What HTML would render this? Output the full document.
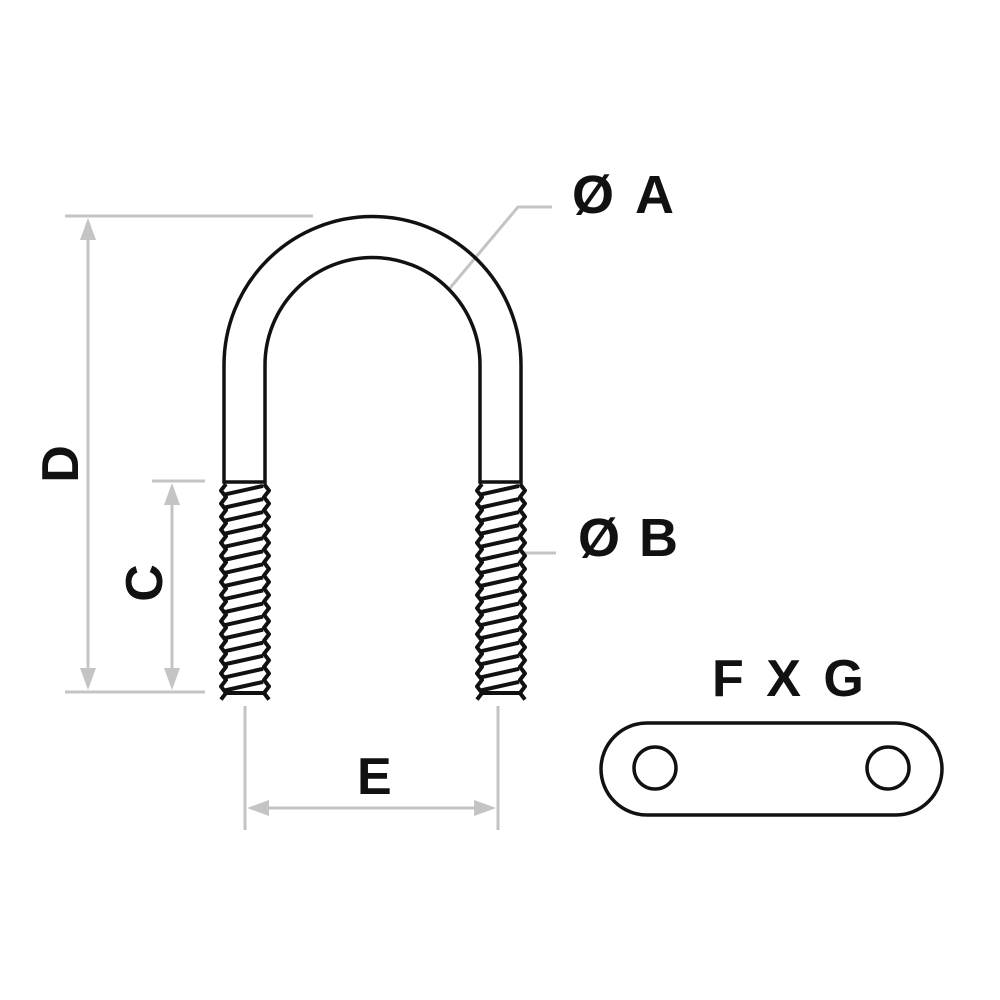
<!DOCTYPE html>
<html><head><meta charset="utf-8"><style>
html,body{margin:0;padding:0;background:#fff;}
svg{display:block;}
text{font-family:"Liberation Sans",sans-serif;font-weight:bold;fill:#111;}
</style></head><body>
<svg id="s" width="1000" height="1000" viewBox="0 0 1000 1000">
<g stroke="#c4c4c4" stroke-width="3" fill="none">
<line x1="65" y1="216" x2="313" y2="216"/>
<line x1="88" y1="222" x2="88" y2="686"/>
<line x1="65" y1="692" x2="205" y2="692"/>
<line x1="152" y1="481" x2="205" y2="481"/>
<line x1="172" y1="487" x2="172" y2="686"/>
<line x1="245" y1="706" x2="245" y2="830"/>
<line x1="498" y1="706" x2="498" y2="830"/>
<line x1="251" y1="808" x2="492" y2="808"/>
<polyline points="450,288 518,207 552,207"/>
<line x1="522" y1="553" x2="556" y2="553"/>
</g>
<g fill="#c4c4c4">
<polygon points="88,218 80,240 96,240"/>
<polygon points="88,690 80,668 96,668"/>
<polygon points="172,483 164,505 180,505"/>
<polygon points="172,690 164,668 180,668"/>
<polygon points="247,808 269,800 269,816"/>
<polygon points="496,808 474,800 474,816"/>
</g>
<g stroke="#111" stroke-width="3.5" fill="none">
<path d="M224,482 L224,365 A148.5,148.5 0 0 1 521,365 L521,482 L480,482 L480,365 A107.5,107.5 0 0 0 265,365 L265,482 Z"/>
<rect x="601" y="723" width="341" height="92" rx="46"/>
<circle cx="655" cy="768" r="21"/>
<circle cx="888" cy="768" r="21"/>
</g>
<g id="th" stroke="#111" stroke-width="4" fill="none" stroke-linejoin="round"></g>
<text x="572" y="213" font-size="54" letter-spacing="4">Ø A</text>
<text x="578" y="556" font-size="54" letter-spacing="2">Ø B</text>
<text x="712" y="696" font-size="52" letter-spacing="4">F X G</text>
<text x="357" y="794" font-size="52">E</text>
<text transform="translate(78,464) rotate(-90)" font-size="52" text-anchor="middle">D</text>
<text transform="translate(162,583) rotate(-90)" font-size="52" text-anchor="middle">C</text>
</svg>
<script>
var g=document.getElementById('th'),out='';
function leg(x0,x1){
 var top=484,bot=693,n=16,p=(bot-top)/n,L='',R='';
 for(var i=0;i<=n;i++){var y=top+i*p;
  L+=(x0+2)+','+y+' '+(x0-3)+','+(y+p/2)+' ';
  R+=(x1-2)+','+y+' '+(x1+3)+','+(y+p/2)+' ';
  if(i<n) out+='<line x1="'+(x0+1)+'" y1="'+(y+p*0.8)+'" x2="'+(x1-3)+'" y2="'+(y+p*0.15)+'"/>';
 }
 out+='<polyline points="'+L+'"/><polyline points="'+R+'"/>';
 out+='<line x1="'+(x0+2)+'" y1="'+bot+'" x2="'+(x1-2)+'" y2="'+bot+'"/>';
}
leg(224,266);leg(480,522);
g.innerHTML=out;
</script>
</body></html>
